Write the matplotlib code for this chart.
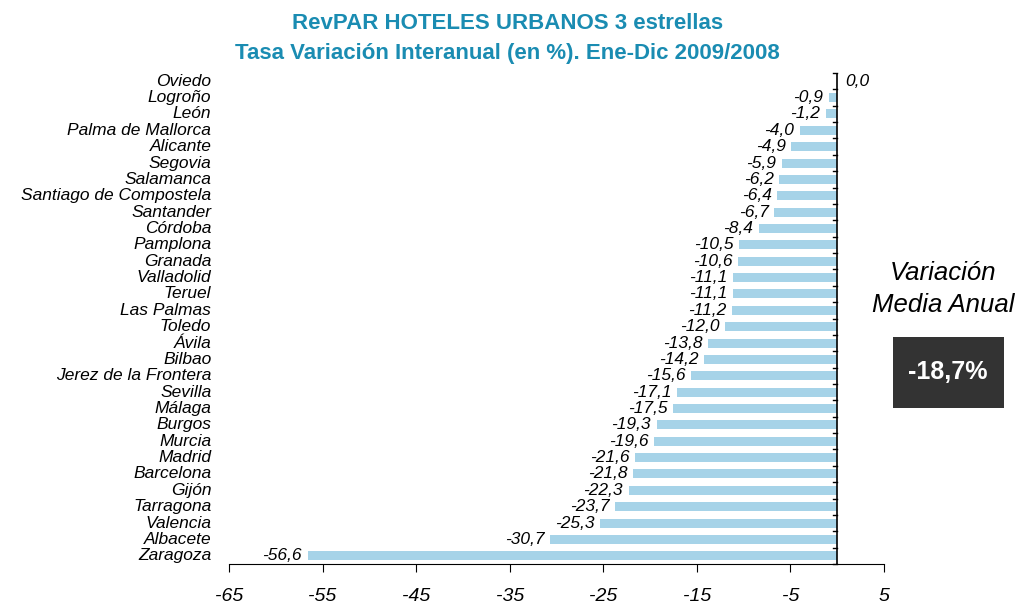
import numpy as np
import matplotlib
matplotlib.use('Agg')
import matplotlib.pyplot as plt
from matplotlib.patches import Rectangle

plt.rcParams['font.family'] = ['Liberation Sans', 'DejaVu Sans']

cities = ['Oviedo', 'Logroño', 'León', 'Palma de Mallorca', 'Alicante', 'Segovia',
          'Salamanca', 'Santiago de Compostela', 'Santander', 'Córdoba', 'Pamplona',
          'Granada', 'Valladolid', 'Teruel', 'Las Palmas', 'Toledo', 'Ávila', 'Bilbao',
          'Jerez de la Frontera', 'Sevilla', 'Málaga', 'Burgos', 'Murcia', 'Madrid',
          'Barcelona', 'Gijón', 'Tarragona', 'Valencia', 'Albacete', 'Zaragoza']
values = [0.0, -0.9, -1.2, -4.0, -4.9, -5.9, -6.2, -6.4, -6.7, -8.4, -10.5, -10.6,
          -11.1, -11.1, -11.2, -12.0, -13.8, -14.2, -15.6, -17.1, -17.5, -19.3, -19.6,
          -21.6, -21.8, -22.3, -23.7, -25.3, -30.7, -56.6]
xticks = [-65, -55, -45, -35, -25, -15, -5, 5]
media = '-18,7%'

fig = plt.figure(figsize=(10.15, 6.06), dpi=100)
ax = fig.add_axes([0.2256, 0.0693, 0.6453, 0.8102])

y = np.arange(len(cities))
ax.barh(y, values, height=0.55, color='#a6d3e8')
ax.set_xlim(-65, 5)
ax.set_ylim(len(cities) - 0.5, -0.5)

for yi, v in zip(y, values):
    txt = f'{v:.1f}'.replace('.', ',')
    if v == 0:
        ax.text(0.9, yi, txt, ha='left', va='center', style='italic', fontsize=12.5)
    else:
        ax.text(v - 0.6, yi, txt, ha='right', va='center', style='italic', fontsize=12.5)

trans = ax.get_yaxis_transform()
for yi, c in zip(y, cities):
    ax.text(-0.027, yi, c, transform=trans, ha='right', va='center',
            style='italic', fontsize=12.5)

# spines
for s in ['top', 'right', 'left']:
    ax.spines[s].set_visible(False)
ax.axvline(0, color='black', lw=1.2)
ax.set_yticks([])
for b in np.arange(len(cities) + 1) - 0.5:
    ax.plot([-0.45, 0], [b, b], color='black', lw=1, clip_on=False)

ax.set_xticks(xticks)
ax.set_xticklabels([str(t) for t in xticks], style='italic', fontsize=14)
ax.tick_params(axis='x', length=6, pad=11)

fig.text(0.5, 0.962, 'RevPAR HOTELES URBANOS 3 estrellas', ha='center', va='center',
         color='#1a8cb2', fontsize=16, fontweight='bold')
fig.text(0.5, 0.912, 'Tasa Variación Interanual (en %). Ene-Dic 2009/2008', ha='center',
         va='center', color='#1a8cb2', fontsize=16, fontweight='bold')

fig.text(0.929, 0.549, 'Variación', ha='center', va='center', style='italic', fontsize=18.5)
fig.text(0.929, 0.496, 'Media Anual', ha='center', va='center', style='italic', fontsize=18.5)
fig.patches.append(Rectangle((893 / 1015, 1 - 408 / 606), 111 / 1015, 71 / 606,
                             transform=fig.transFigure, facecolor='#333333', edgecolor='none'))
fig.text(948 / 1015, 1 - 372 / 606, media, ha='center', va='center', color='white',
         fontsize=18, fontweight='bold')

fig.savefig('out.png', dpi=100)
